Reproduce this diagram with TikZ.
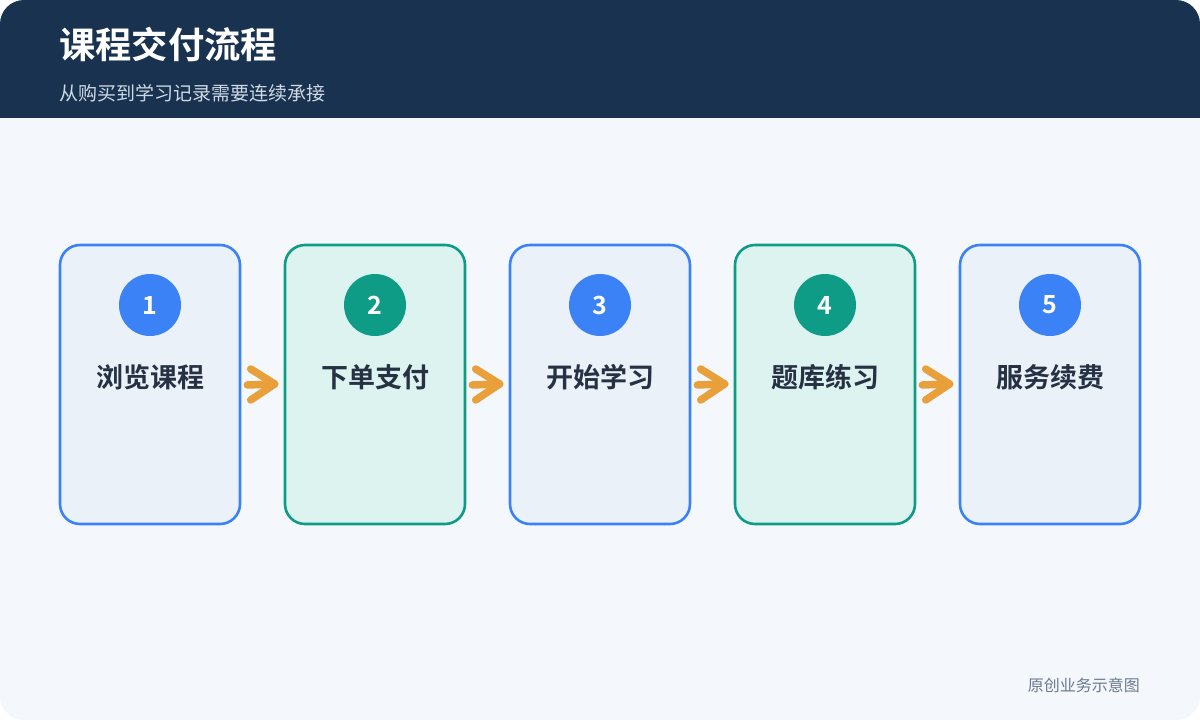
\documentclass[tikz,border=0pt]{standalone}
\usepackage{fontspec}
\setmainfont{Noto Sans CJK SC}
\newfontfamily\cjkb{Noto Sans CJK SC Bold}
\definecolor{hdr}{HTML}{183250}
\definecolor{bodybg}{HTML}{F4F8FC}
\definecolor{bblue}{HTML}{3B82F6}
\definecolor{fblue}{HTML}{EAF1F9}
\definecolor{bgreen}{HTML}{0E9C86}
\definecolor{fgreen}{HTML}{DDF3EF}
\definecolor{txt}{HTML}{263244}
\definecolor{sub}{HTML}{D0DAE6}
\definecolor{foot}{HTML}{6B7A90}
\definecolor{arr}{HTML}{EAA03A}
\tikzset{
  x=1pt,y=-1pt,
  stepbox/.style={draw, line width=2.6pt, rounded corners=20pt, minimum width=180pt, minimum height=279pt, inner sep=0pt},
  bluebox/.style={stepbox, draw=bblue, fill=fblue},
  greenbox/.style={stepbox, draw=bgreen, fill=fgreen},
  numcirc/.style={circle, minimum size=62pt, inner sep=0pt, text=white, font=\cjkb\fontsize{25}{28}\selectfont},
  steptext/.style={text=txt, font=\cjkb\fontsize{27}{30}\selectfont, inner sep=0pt},
  flow/.style={draw=arr, line width=7.5pt, line cap=round, line join=round},
}
\begin{document}
\begin{tikzpicture}
\useasboundingbox (0,0) rectangle (1200,720);
\fill[white] (0,0) rectangle (1200,720);
\begin{scope}
\clip[rounded corners=24pt] (0,0) rectangle (1200,720);
\fill[bodybg] (0,0) rectangle (1200,720);
\fill[hdr] (0,0) rectangle (1200,118);
\end{scope}
\node[anchor=west, text=white, font=\cjkb\fontsize{36.3}{40}\selectfont, inner sep=0pt] (title) at (59,45) {课程交付流程};
\node[anchor=west, text=sub, font=\fontsize{19}{22}\selectfont, inner sep=0pt] (subtitle) at (59,93) {从购买到学习记录需要连续承接};
\node[anchor=east, text=foot, font=\fontsize{16}{18}\selectfont, inner sep=0pt] (footer) at (1140,685) {原创业务示意图};

\foreach \i/\lab/\st/\cc in {1/浏览课程/bluebox/bblue, 2/下单支付/greenbox/bgreen, 3/开始学习/bluebox/bblue, 4/题库练习/greenbox/bgreen, 5/服务续费/bluebox/bblue}{
  \pgfmathsetmacro{\cx}{150+225*(\i-1)}
  \node[\st] (box\i) at (\cx,384.5) {};
  \node[numcirc, fill=\cc] (num\i) at (\cx,305) {\i};
  \node[steptext] (lab\i) at (\cx,377) {\lab};
}
\foreach \i in {1,...,4}{
  \pgfmathtruncatemacro{\j}{\i+1}
  \coordinate (a\i) at ([xshift=6pt]box\i.east |- 0,385);
  \coordinate (t\i) at ([xshift=-9pt]box\j.west |- 0,384);
  \draw[flow] (a\i) -- (t\i);
  \draw[flow] ([xshift=-24pt,yshift=-16pt]t\i) -- (t\i) -- ([xshift=-24pt,yshift=15pt]t\i);
}
\end{tikzpicture}
\end{document}
